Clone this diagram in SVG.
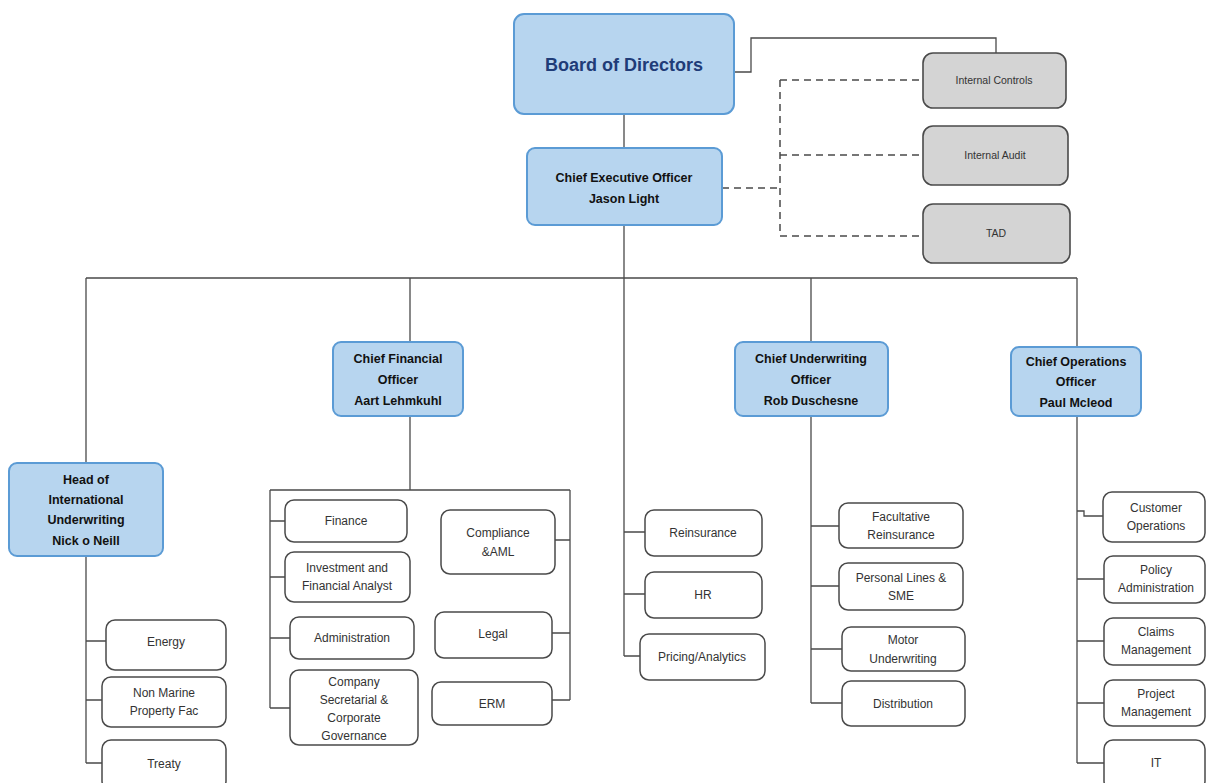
<svg xmlns="http://www.w3.org/2000/svg" width="1207" height="783" viewBox="0 0 1207 783">
<style>
.blue{fill:#b7d5ef;stroke:#5b9bd5;stroke-width:2}
.gray{fill:#d4d4d4;stroke:#4a4a4a;stroke-width:1.6}
.wht{fill:#ffffff;stroke:#4a4a4a;stroke-width:1.5}
.ln{fill:none;stroke:#4a4a4a;stroke-width:1.3}
.dash{fill:none;stroke:#4a4a4a;stroke-width:1.5;stroke-dasharray:7 5}
text{font-family:"Liberation Sans",Arial,sans-serif;text-anchor:middle;fill:#222}
.t{font-size:12px;fill:#333}
.b{font-size:12.5px;font-weight:bold;fill:#111}
.g{font-size:10.5px;fill:#333}
</style>
<rect width="1207" height="783" fill="#ffffff"/>
<g id="connectors">
<path class="ln" d="M734 72H751V38H996V53"/>
<path class="ln" d="M624 114V148"/>
<path class="dash" d="M722 188H780M780 80V236M780 80H923M780 155H923M780 236H923"/>
<path class="ln" d="M624 225V656M86 278H1077M86 278V463M410 278V342M811 278V342M1077 278V347"/>
<path class="ln" d="M86 556V763M86 641H106M86 700H102M86 763H102"/>
<path class="ln" d="M410 416V490M270 490H570M270 490V708M270 521H285M270 577H285M270 638H290M270 708H290M570 490V700M555 540H570M552 633H570M552 700H570"/>
<path class="ln" d="M624 532H645M624 594H645M624 656H640"/>
<path class="ln" d="M811 416V703M811 526H839M811 586H839M811 649H842M811 703H842"/>
<path class="ln" d="M1077 416V763M1077 511H1084V516H1103M1077 579H1104M1077 641H1104M1077 703H1104M1077 763H1104"/>
</g>
<g id="board"><rect class="blue" x="514" y="14" width="220" height="100" rx="10"/><text x="624" y="71" style="font-size:18px;font-weight:bold;fill:#1f3c78">Board of Directors</text></g>
<g id="internal-controls"><rect class="gray" x="923" y="53" width="143" height="55" rx="10"/><text class="g" x="994" y="84">Internal Controls</text></g>
<g id="internal-audit"><rect class="gray" x="923" y="126" width="145" height="59" rx="10"/><text class="g" x="995" y="159">Internal Audit</text></g>
<g id="tad"><rect class="gray" x="923" y="204" width="147" height="59" rx="10"/><text class="g" x="996" y="237">TAD</text></g>
<g id="ceo"><rect class="blue" x="527" y="148" width="195" height="77" rx="8"/><text class="b" x="624" y="182">Chief Executive Officer</text><text class="b" x="624" y="203">Jason Light</text></g>
<g id="cfo"><rect class="blue" x="333" y="342" width="130" height="74" rx="8"/><text class="b" x="398" y="363">Chief Financial</text><text class="b" x="398" y="384">Officer</text><text class="b" x="398" y="405">Aart Lehmkuhl</text></g>
<g id="cuo"><rect class="blue" x="735" y="342" width="153" height="74" rx="8"/><text class="b" x="811" y="363">Chief Underwriting</text><text class="b" x="811" y="384">Officer</text><text class="b" x="811" y="405">Rob Duschesne</text></g>
<g id="coo"><rect class="blue" x="1011" y="347" width="130" height="69" rx="8"/><text class="b" x="1076" y="366">Chief Operations</text><text class="b" x="1076" y="386">Officer</text><text class="b" x="1076" y="407">Paul Mcleod</text></g>
<g id="head-intl"><rect class="blue" x="9" y="463" width="154" height="93" rx="8"/><text class="b" x="86" y="484">Head of</text><text class="b" x="86" y="504">International</text><text class="b" x="86" y="524">Underwriting</text><text class="b" x="86" y="545">Nick o Neill</text></g>
<g id="energy"><rect class="wht" x="106" y="620" width="120" height="50" rx="9"/><text class="t" x="166" y="646">Energy</text></g>
<g id="non-marine"><rect class="wht" x="102" y="677" width="124" height="50" rx="9"/><text class="t" x="164" y="697">Non Marine</text><text class="t" x="164" y="715">Property Fac</text></g>
<g id="treaty"><rect class="wht" x="102" y="740" width="124" height="50" rx="9"/><text class="t" x="164" y="768">Treaty</text></g>
<g id="finance"><rect class="wht" x="285" y="500" width="122" height="42" rx="9"/><text class="t" x="346" y="525">Finance</text></g>
<g id="investment"><rect class="wht" x="285" y="552" width="125" height="50" rx="9"/><text class="t" x="347" y="572">Investment and</text><text class="t" x="347" y="590">Financial Analyst</text></g>
<g id="administration"><rect class="wht" x="290" y="617" width="124" height="42" rx="9"/><text class="t" x="352" y="642">Administration</text></g>
<g id="company-sec"><rect class="wht" x="290" y="670" width="128" height="75" rx="9"/><text class="t" x="354" y="686">Company</text><text class="t" x="354" y="704">Secretarial &amp;</text><text class="t" x="354" y="722">Corporate</text><text class="t" x="354" y="740">Governance</text></g>
<g id="compliance"><rect class="wht" x="441" y="510" width="114" height="64" rx="9"/><text class="t" x="498" y="537">Compliance</text><text class="t" x="498" y="556">&amp;AML</text></g>
<g id="legal"><rect class="wht" x="435" y="612" width="117" height="46" rx="9"/><text class="t" x="493" y="638">Legal</text></g>
<g id="erm"><rect class="wht" x="432" y="682" width="120" height="43" rx="9"/><text class="t" x="492" y="708">ERM</text></g>
<g id="reinsurance"><rect class="wht" x="645" y="510" width="117" height="46" rx="9"/><text class="t" x="703" y="537">Reinsurance</text></g>
<g id="hr"><rect class="wht" x="645" y="572" width="117" height="46" rx="9"/><text class="t" x="703" y="599">HR</text></g>
<g id="pricing"><rect class="wht" x="640" y="634" width="125" height="46" rx="9"/><text class="t" x="702" y="661">Pricing/Analytics</text></g>
<g id="facultative"><rect class="wht" x="839" y="503" width="124" height="45" rx="9"/><text class="t" x="901" y="521">Facultative</text><text class="t" x="901" y="539">Reinsurance</text></g>
<g id="personal-lines"><rect class="wht" x="839" y="563" width="124" height="47" rx="9"/><text class="t" x="901" y="582">Personal Lines &amp;</text><text class="t" x="901" y="600">SME</text></g>
<g id="motor"><rect class="wht" x="842" y="627" width="123" height="44" rx="9"/><text class="t" x="903" y="644">Motor</text><text class="t" x="903" y="663">Underwriting</text></g>
<g id="distribution"><rect class="wht" x="842" y="681" width="123" height="45" rx="9"/><text class="t" x="903" y="708">Distribution</text></g>
<g id="customer-ops"><rect class="wht" x="1103" y="492" width="102" height="50" rx="9"/><text class="t" x="1156" y="512">Customer</text><text class="t" x="1156" y="530">Operations</text></g>
<g id="policy-admin"><rect class="wht" x="1104" y="556" width="101" height="47" rx="9"/><text class="t" x="1156" y="574">Policy</text><text class="t" x="1156" y="592">Administration</text></g>
<g id="claims"><rect class="wht" x="1104" y="618" width="101" height="47" rx="9"/><text class="t" x="1156" y="636">Claims</text><text class="t" x="1156" y="654">Management</text></g>
<g id="project"><rect class="wht" x="1104" y="680" width="101" height="46" rx="9"/><text class="t" x="1156" y="698">Project</text><text class="t" x="1156" y="716">Management</text></g>
<g id="it"><rect class="wht" x="1104" y="740" width="101" height="50" rx="9"/><text class="t" x="1156" y="767">IT</text></g>
</svg>
